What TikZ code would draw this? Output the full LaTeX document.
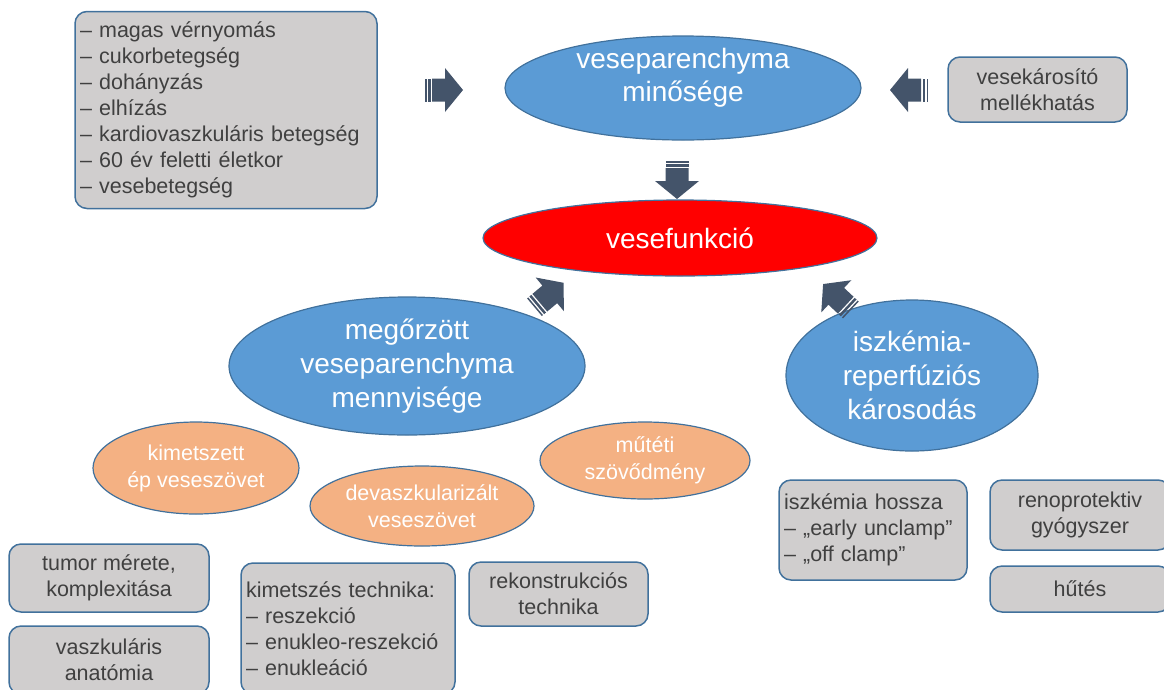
\documentclass[tikz,border=0pt]{standalone}
\usepackage{fontspec}
\setmainfont{Liberation Sans}
\usetikzlibrary{shapes.geometric}
\definecolor{ellblue}{HTML}{5B9BD5}
\definecolor{bordblue}{HTML}{41719C}
\definecolor{boxgray}{HTML}{D0CECE}
\definecolor{txtgray}{HTML}{404040}
\definecolor{peach}{HTML}{F4B183}
\definecolor{arrowslate}{HTML}{44546A}

\tikzset{
	striped/.pic={
		\fill[arrowslate] (-19,-11.5) rectangle (-17.5,11.5);
		\fill[arrowslate] (-16,-11.5) rectangle (-13.5,11.5);
		\fill[arrowslate] (-12,-11.5) -- (1,-11.5) -- (1,-22) -- (19,0) -- (1,22) -- (1,11.5) -- (-12,11.5) -- cycle;
	}
}

\begin{document}
\begin{tikzpicture}[x=1pt,y=-1pt,
		box/.style={draw=bordblue, line width=1.5pt, fill=boxgray, rounded corners=12pt,
			text=txtgray, font=\fontsize{21.5}{26}\selectfont, align=center, inner sep=0pt},
		listbox/.style={box, align=left, inner xsep=5pt},
		bigell/.style={ellipse, draw=bordblue, line width=1.2pt, fill=ellblue, text=white,
			font=\fontsize{28}{34}\selectfont, align=center, inner sep=0pt},
		smallell/.style={ellipse, draw=bordblue, line width=1.2pt, fill=peach, text=white,
			font=\fontsize{21.5}{27}\selectfont, align=center, inner sep=0pt}]
	\useasboundingbox (0,0) rectangle (1164,689);
	\clip (0,0) rectangle (1164,689);
	
	% top row
	\node[listbox, text width=292pt, minimum height=197pt] (risk) at (226,110)
	{-- magas vérnyomás\\ -- cukorbetegség\\ -- dohányzás\\ -- elhízás\\
		-- kardiovaszkuláris betegség\\ -- 60 év feletti életkor\\ -- vesebetegség};
	\node[bigell, minimum width=356pt, minimum height=104pt] (quality) at (683,88) {};
	\node[font=\fontsize{28}{33}\selectfont, text=white, align=center, inner sep=0pt]
	(qualitytext) at (683,78) {veseparenchyma\\ minősége};
	\node[box, minimum width=179pt, minimum height=65pt] (harm) at (1037.5,89.5)
	{vesekárosító\\ mellékhatás};
	
	\node[bigell, fill=red, minimum width=394pt, minimum height=76pt] (func) at (680,238)
	{vesefunkció};
	
	% middle row
	\node[bigell, minimum width=356pt, minimum height=138pt] (amount) at (407,366)
	{megőrzött\\ veseparenchyma\\ mennyisége};
	\node[bigell, minimum width=252pt, minimum height=151pt] (ischem) at (912,375.5)
	{iszkémia-\\ reperfúziós\\ károsodás};
	
	\node[smallell, minimum width=206pt, minimum height=92pt] (removed) at (196,468)
	{kimetszett\\ ép veseszövet};
	\node[smallell, minimum width=224pt, minimum height=80pt] (devasc) at (422,506)
	{devaszkularizált\\ veseszövet};
	\node[smallell, minimum width=210pt, minimum height=77pt] (compl) at (645,460.5)
	{műtéti\\ szövődmény};
	
	% bottom boxes
	\node[box, minimum width=200pt, minimum height=68pt] (tumor) at (109,578)
	{tumor mérete,\\ komplexitása};
	\node[box, minimum width=200pt, minimum height=68pt] (vasc) at (109,660)
	{vaszkuláris\\ anatómia};
	\node[listbox, text width=204pt, minimum height=131pt] (technique) at (348,628.5)
	{kimetszés technika:\\ -- reszekció\\ -- enukleo-reszekció\\ -- enukleáció};
	\node[box, minimum width=179pt, minimum height=64pt] (recon) at (558.5,594)
	{rekonstrukciós\\ technika};
	\node[listbox, text width=178pt, minimum height=100pt] (ischlen) at (873,530)
	{iszkémia hossza\\ -- „early unclamp”\\ -- „off clamp”};
	\node[box, minimum width=180pt, minimum height=70pt] (reno) at (1080,515)
	{renoprotektiv\\ gyógyszer};
	\node[box, minimum width=180pt, minimum height=46pt] (cool) at (1080,589)
	{hűtés};
	
	% block arrows
	\pic at (444,90) {striped};
	\pic[rotate=180] at (909,90) {striped};
	\pic[rotate=-90] at (677,180) {striped};
	\pic[rotate=40] at (549,295) {striped};
	\pic[rotate=137] at (837,297) {striped};
\end{tikzpicture}
\end{document}
